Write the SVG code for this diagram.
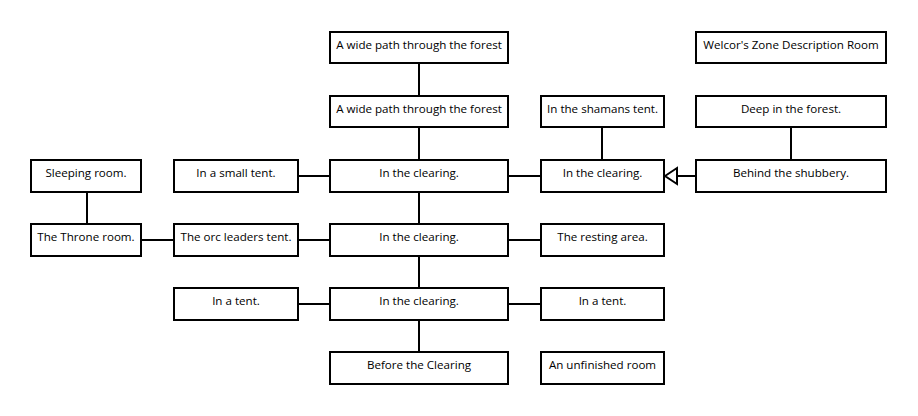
<svg xmlns="http://www.w3.org/2000/svg" width="918" height="416" viewBox="0 0 918 416">
<style>
.n rect{fill:#fff;stroke:#000;stroke-width:2}
.n text{font-family:"Open Sans","Noto Sans","DejaVu Sans",sans-serif;font-size:11.6px;text-anchor:middle;fill:#000}
.c line{stroke:#000;stroke-width:2}
</style>
<rect width="918" height="416" fill="#fff"/>
<g class="c" id="connectors">
<line x1="419" y1="63" x2="419" y2="96"/>
<line x1="419" y1="127" x2="419" y2="160"/>
<line x1="419" y1="192" x2="419" y2="224"/>
<line x1="419" y1="256" x2="419" y2="288"/>
<line x1="419" y1="320" x2="419" y2="352"/>
<line x1="298" y1="176" x2="330" y2="176"/>
<line x1="508" y1="176" x2="541" y2="176"/>
<line x1="602" y1="127" x2="602" y2="160"/>
<line x1="791" y1="127" x2="791" y2="160"/>
<line x1="677" y1="176" x2="696" y2="176"/>
<polygon points="665,176 677,168 677,184" fill="#fff" stroke="#000" stroke-width="2"/>
<line x1="87" y1="192" x2="87" y2="224"/>
<line x1="141" y1="240" x2="174" y2="240"/>
<line x1="298" y1="240" x2="330" y2="240"/>
<line x1="508" y1="240" x2="541" y2="240"/>
<line x1="298" y1="304" x2="330" y2="304"/>
<line x1="508" y1="304" x2="541" y2="304"/>
</g>
<g class="n" id="n1"><rect x="330" y="32" width="178" height="31"/><text x="419" y="49">A wide path through the forest</text></g>
<g class="n" id="n2"><rect x="696" y="32" width="190" height="31"/><text x="791" y="49">Welcor's Zone Description Room</text></g>
<g class="n" id="n3"><rect x="330" y="96" width="178" height="31"/><text x="419" y="113">A wide path through the forest</text></g>
<g class="n" id="n4"><rect x="541" y="96" width="123" height="31"/><text x="602.5" y="113">In the shamans tent.</text></g>
<g class="n" id="n5"><rect x="696" y="96" width="190" height="31"/><text x="791" y="113">Deep in the forest.</text></g>
<g class="n" id="n6"><rect x="31" y="160" width="110" height="32"/><text x="86" y="177">Sleeping room.</text></g>
<g class="n" id="n7"><rect x="174" y="160" width="124" height="32"/><text x="236" y="177">In a small tent.</text></g>
<g class="n" id="n8"><rect x="330" y="160" width="178" height="32"/><text x="419" y="177">In the clearing.</text></g>
<g class="n" id="n9"><rect x="541" y="160" width="123" height="32"/><text x="602.5" y="177">In the clearing.</text></g>
<g class="n" id="n10"><rect x="696" y="160" width="190" height="32"/><text x="791" y="177">Behind the shubbery.</text></g>
<g class="n" id="n11"><rect x="31" y="224" width="110" height="32"/><text x="86" y="241">The Throne room.</text></g>
<g class="n" id="n12"><rect x="174" y="224" width="124" height="32"/><text x="236" y="241">The orc leaders tent.</text></g>
<g class="n" id="n13"><rect x="330" y="224" width="178" height="32"/><text x="419" y="241">In the clearing.</text></g>
<g class="n" id="n14"><rect x="541" y="224" width="123" height="32"/><text x="602.5" y="241">The resting area.</text></g>
<g class="n" id="n15"><rect x="174" y="288" width="124" height="32"/><text x="236" y="305">In a tent.</text></g>
<g class="n" id="n16"><rect x="330" y="288" width="178" height="32"/><text x="419" y="305">In the clearing.</text></g>
<g class="n" id="n17"><rect x="541" y="288" width="123" height="32"/><text x="602.5" y="305">In a tent.</text></g>
<g class="n" id="n18"><rect x="330" y="352" width="178" height="32"/><text x="419" y="369">Before the Clearing</text></g>
<g class="n" id="n19"><rect x="541" y="352" width="123" height="32"/><text x="602.5" y="369">An unfinished room</text></g>
</svg>
